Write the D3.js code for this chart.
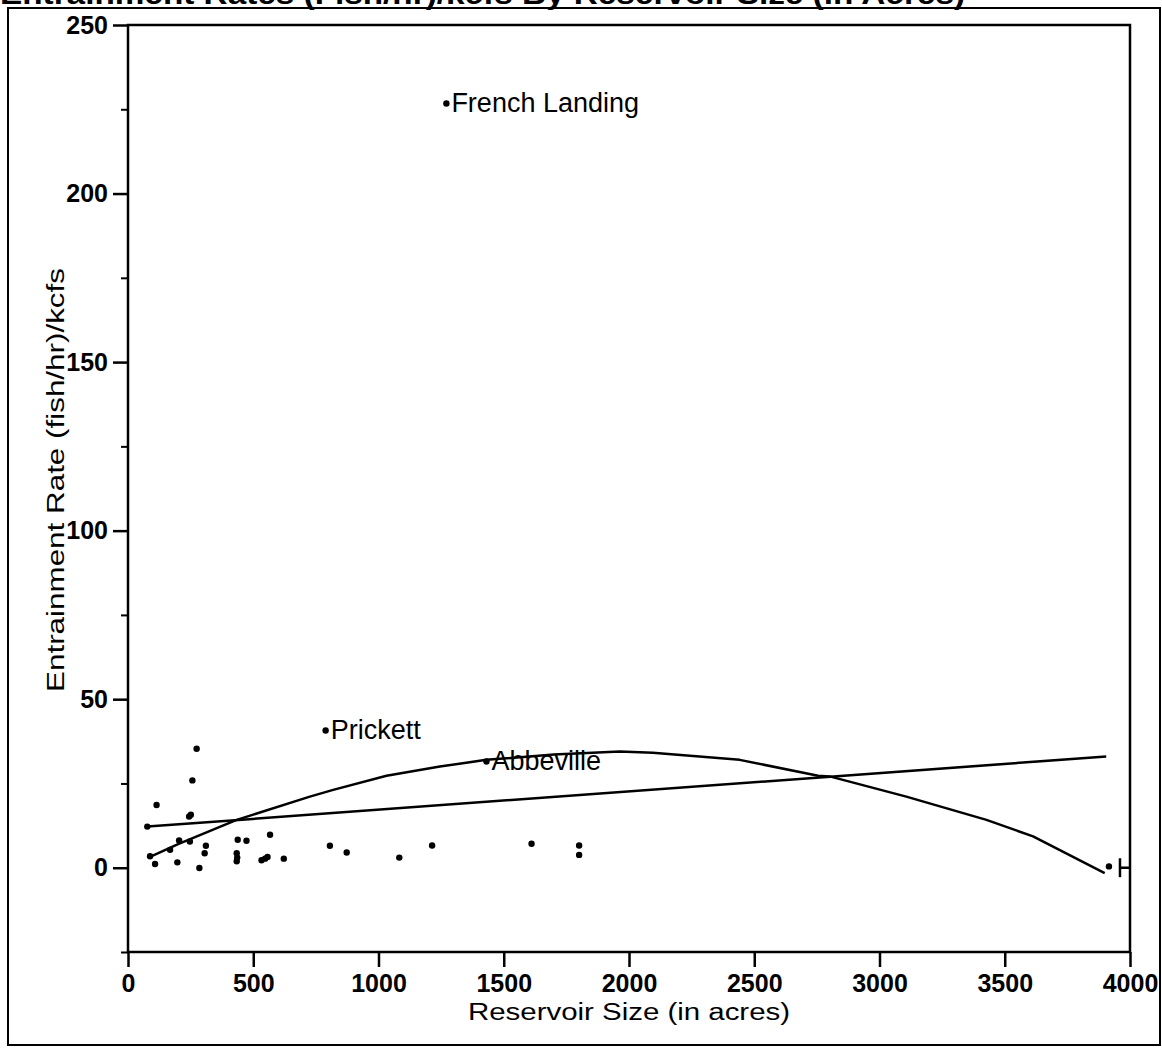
<!DOCTYPE html>
<html><head><meta charset="utf-8">
<script src="https://cdn.jsdelivr.net/npm/d3@7"></script>
<style>body{margin:0;background:#fff;} svg{display:block;font-family:"Liberation Sans",Arial,sans-serif;}</style>
</head><body>
<script>
// Data
const sizeAcres = [77,88,108,114,168,197,204,244,251,247,257,274,285,306,311,434,434,436,438,473,533,547,557,567,622,789,806,873,1083,1214,1271,1431,1611,1801,1801,3916];
const entrainRate = [12.2,3.4,1.1,18.6,5.3,1.6,8.1,15.2,15.7,7.8,25.9,35.3,-0.1,4.3,6.5,4.3,1.9,3.0,8.3,8.0,2.2,2.7,3.2,9.8,2.7,40.7,6.5,4.5,3.0,6.6,226.7,31.5,7.1,6.6,3.8,0.4];
const labelNames = ["French Landing","Prickett","Abbeville"];
const labelX = [1271,789,1431];
const labelY = [226.7,40.7,31.5];
const linFitX = [77,3905];
const linFitY = [12.2,33.0];
const curveX = [88,200,434,726,819,1032,1245,1431,1700,1963,2095,2442,2755,2801,3107,3427,3613,3899];
const curveY = [3.2,7.0,14.2,21.1,23.1,27.3,30.0,32.0,33.6,34.5,34.1,32.0,27.3,27.1,21.1,14.2,9.3,-1.6];
const xTicks = [0,500,1000,1500,2000,2500,3000,3500,4000];
const yTicks = [0,50,100,150,200,250];
const yMinorTicks = [-25,25,75,125,175,225];
const titleText = "Entrainment Rates (Fish/hr)/kcfs By Reservoir Size (in Acres)";
const xTitle = "Reservoir Size (in acres)";
const yTitle = "Entrainment Rate (fish/hr)/kcfs";

const W = 1162, H = 1048;
const svg = d3.select("body").append("svg").attr("width", W).attr("height", H);
const x = d3.scaleLinear().domain([0,4000]).range([128,1130]);
const y = d3.scaleLinear().domain([-25,250]).range([952,25]);

// cut-off title at the very top (only its lower edge shows, as in the scan)
svg.append("text").attr("x", 0).attr("y", 4).attr("font-size", 30).attr("font-weight", "bold")
  .attr("textLength", 965).attr("lengthAdjust", "spacingAndGlyphs").text(titleText);

// outer frame
svg.append("rect").attr("x", 8).attr("y", 8).attr("width", 1152).attr("height", 1037)
  .attr("fill", "none").attr("stroke", "#000").attr("stroke-width", 2);

// plot box
svg.append("rect").attr("x", x(0)).attr("y", y(250)).attr("width", x(4000)-x(0)).attr("height", y(-25)-y(250))
  .attr("fill", "none").attr("stroke", "#000").attr("stroke-width", 2.5);

// y axis
const yAxis = d3.axisLeft(y).tickValues(yTicks).tickSize(15).tickPadding(5).tickFormat(d3.format("d"));
const gy = svg.append("g").attr("transform", `translate(${x(0)},0)`).call(yAxis);
gy.select(".domain").remove();
gy.selectAll("line").attr("stroke-width", 2.5);
gy.selectAll("text").attr("font-size", 25).attr("font-weight", "bold").attr("font-family", "Liberation Sans, Arial, sans-serif");
const yAxisMinor = d3.axisLeft(y).tickValues(yMinorTicks).tickSize(7).tickFormat("");
const gym = svg.append("g").attr("transform", `translate(${x(0)},0)`).call(yAxisMinor);
gym.select(".domain").remove();
gym.selectAll("line").attr("stroke-width", 2);

// x axis
const xAxis = d3.axisBottom(x).tickValues(xTicks).tickSize(15).tickPadding(7).tickFormat(d3.format("d"));
const gx = svg.append("g").attr("transform", `translate(0,${y(-25)})`).call(xAxis);
gx.select(".domain").remove();
gx.selectAll("line").attr("stroke-width", 2.5);
gx.selectAll("text").attr("font-size", 25).attr("font-weight", "bold").attr("font-family", "Liberation Sans, Arial, sans-serif");

// axis titles
svg.append("text").attr("x", (x(0)+x(4000))/2).attr("y", 1020).attr("text-anchor", "middle")
  .attr("font-size", 23).attr("textLength", 322).attr("lengthAdjust", "spacingAndGlyphs").text(xTitle);
svg.append("text").attr("transform", `translate(64,480) rotate(-90)`).attr("text-anchor", "middle")
  .attr("font-size", 23).attr("textLength", 424).attr("lengthAdjust", "spacingAndGlyphs").text(yTitle);

// fit lines
const line = d3.line().x(d => x(d[0])).y(d => y(d[1]));
svg.append("path").datum(linFitX.map((v,i)=>[v,linFitY[i]])).attr("d", line)
  .attr("fill","none").attr("stroke","#000").attr("stroke-width",2.5);
svg.append("path").datum(curveX.map((v,i)=>[v,curveY[i]])).attr("d", line)
  .attr("fill","none").attr("stroke","#000").attr("stroke-width",2.5).attr("stroke-linejoin","round");

// points
svg.append("g").selectAll("circle").data(sizeAcres.map((v,i)=>[v,entrainRate[i]])).join("circle")
  .attr("cx", d=>x(d[0])).attr("cy", d=>y(d[1])).attr("r", 3.2).attr("fill","#000");

// labels
svg.append("g").selectAll("text").data(labelNames).join("text")
  .attr("x", (d,i)=>x(labelX[i])+5).attr("y", (d,i)=>y(labelY[i])+8)
  .attr("font-size", 27).text(d=>d);

// small marker at right edge near zero
const mk = svg.append("g");
mk.append("line").attr("x1", x(3960)).attr("x2", x(3960)).attr("y1", y(2.8)).attr("y2", y(-2.8)).attr("stroke","#000").attr("stroke-width",2.5);
mk.append("line").attr("x1", x(3960)).attr("x2", x(4000)).attr("y1", y(0)).attr("y2", y(0)).attr("stroke","#000").attr("stroke-width",2.5);
</script>
</body></html>
